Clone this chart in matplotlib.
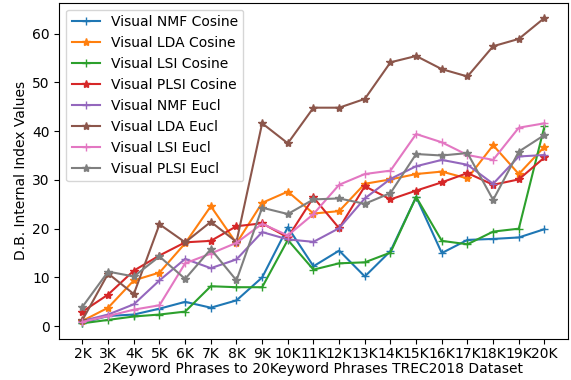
import matplotlib
matplotlib.use("Agg")
import matplotlib.pyplot as plt

keywords = ["2K", "3K", "4K", "5K", "6K", "7K", "8K", "9K", "10K", "11K",
            "12K", "13K", "14K", "15K", "16K", "17K", "18K", "19K", "20K"]

nmf_cos = [0.7, 2.1, 2.4, 3.6, 5.0, 3.8, 5.3, 10.0, 20.3, 12.3,
           15.5, 10.2, 15.4, 26.5, 15.0, 17.7, 17.9, 18.2, 19.9]
lda_cos = [1.1, 3.8, 9.4, 11.0, 17.0, 24.6, 17.0, 25.3, 27.6, 23.1,
           23.6, 29.2, 30.1, 31.2, 31.7, 30.3, 37.1, 31.2, 36.8]
lsi_cos = [0.6, 1.3, 2.0, 2.4, 3.0, 8.2, 8.0, 8.0, 17.7, 11.6,
           12.9, 13.1, 15.1, 26.5, 17.5, 16.8, 19.4, 20.0, 41.0]
plsi_cos = [3.0, 6.5, 11.4, 14.5, 17.2, 17.5, 20.5, 21.1, 18.2, 26.4,
            20.1, 28.7, 26.0, 27.8, 29.5, 31.4, 29.0, 30.1, 34.6]
nmf_eucl = [1.1, 2.4, 4.5, 9.4, 13.8, 11.9, 13.7, 19.3, 17.8, 17.3,
            20.1, 26.2, 30.2, 32.8, 34.1, 33.1, 29.2, 34.8, 35.1]
lda_eucl = [1.3, 10.8, 6.6, 20.9, 17.2, 21.4, 17.3, 41.6, 37.5, 44.8,
            44.8, 46.6, 54.1, 55.4, 52.7, 51.2, 57.4, 58.9, 63.2]
lsi_eucl = [0.9, 2.1, 3.4, 4.3, 12.9, 14.9, 17.1, 21.0, 18.6, 23.0,
            29.0, 31.2, 31.9, 39.4, 37.7, 35.1, 34.1, 40.7, 41.6]
plsi_eucl = [4.0, 11.2, 10.2, 14.3, 9.7, 15.8, 9.4, 24.3, 23.0, 26.0,
             26.2, 25.1, 27.3, 35.3, 35.0, 35.5, 25.9, 35.8, 39.2]

fig, ax = plt.subplots(figsize=(5.71, 3.80), dpi=100)
fig.subplots_adjust(left=0.104, right=0.994, bottom=0.109, top=0.993)

ax.plot(keywords, nmf_cos, marker="+", label="Visual NMF Cosine")
ax.plot(keywords, lda_cos, marker="*", label="Visual LDA Cosine")
ax.plot(keywords, lsi_cos, marker="+", label="Visual LSI Cosine")
ax.plot(keywords, plsi_cos, marker="*", label="Visual PLSI Cosine")
ax.plot(keywords, nmf_eucl, marker="+", label="Visual NMF Eucl")
ax.plot(keywords, lda_eucl, marker="*", label="Visual LDA Eucl")
ax.plot(keywords, lsi_eucl, marker="+", label="Visual LSI Eucl")
ax.plot(keywords, plsi_eucl, marker="*", label="Visual PLSI Eucl")

ax.tick_params(axis="x", pad=2.5)
ax.set_xlabel("2Keyword Phrases to 20Keyword Phrases TREC2018 Dataset", labelpad=1)
ax.set_ylabel("D.B. Internal Index Values", labelpad=3)
ax.legend(loc="upper left")

fig.savefig("out.png")
